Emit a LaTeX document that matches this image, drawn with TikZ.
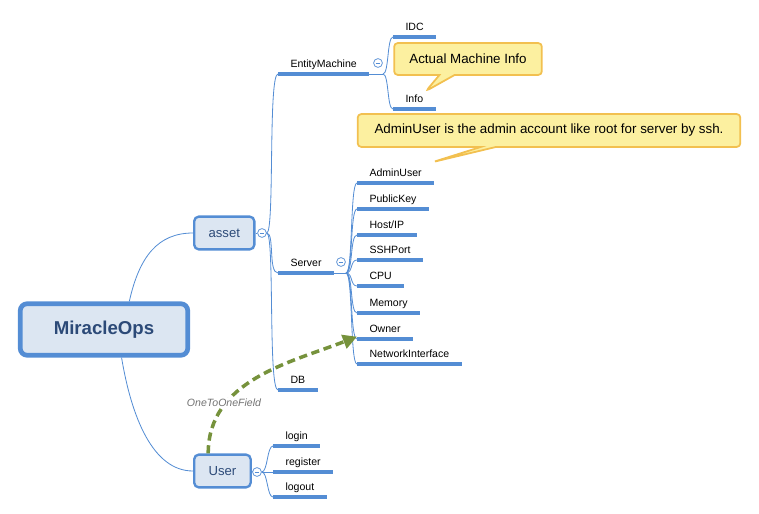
\documentclass[tikz,border=0pt]{standalone}
\usepackage{fontspec}
\setmainfont{Liberation Sans}
\usetikzlibrary{arrows.meta,shapes.callouts}

\definecolor{mapblue}{RGB}{84,141,212}
\definecolor{mapfill}{RGB}{220,230,242}
\definecolor{maptext}{RGB}{44,74,120}
\definecolor{notefill}{RGB}{252,240,160}
\definecolor{noteline}{RGB}{242,192,80}
\definecolor{relgreen}{RGB}{118,146,60}

\tikzset{
  link/.style={mapblue, line width=0.7pt},
  uline/.style={mapblue, line width=2.6pt},
  topic/.style={draw=mapblue, line width=2pt, fill=mapfill, rounded corners=4pt, text=maptext,
    font=\fontsize{11.2}{13}\selectfont, minimum height=28pt, inner xsep=12.3pt},
  leaf/.style={anchor=south west, inner xsep=10.5pt, inner ysep=3.6pt, text height=6.6pt,
    text depth=1.5pt, font=\fontsize{9}{11}\selectfont},
  fold/.style={circle, draw=mapblue, line width=0.6pt, fill=white, minimum size=7.5pt, inner sep=0pt,
    path picture={\draw[mapblue, line width=0.6pt] ([xshift=-2pt]path picture bounding box.center)
      -- ([xshift=2pt]path picture bounding box.center);}},
  note/.style={rectangle callout, draw=noteline, line width=1.5pt, fill=notefill, rounded corners=3pt,
    font=\fontsize{11.4}{13}\selectfont, callout pointer width=13pt},
  relation/.style={relgreen, line width=3pt, dash pattern=on 7pt off 4pt,
    -{Triangle[length=12pt,width=12pt]}},
  rellabel/.style={fill=white, inner sep=1pt, text=black!55, font=\itshape\fontsize{9}{11}\selectfont}
}

\begin{document}
\begin{tikzpicture}[x=0.03cm, y=-0.03cm]
\useasboundingbox (0,0) rectangle (759,514);

\node[topic, line width=4pt, rounded corners=6pt, minimum width=143pt, minimum height=44pt,
  font=\bfseries\fontsize{15.9}{18}\selectfont] (root) at (104,329.5) {MiracleOps};
\node[topic, anchor=west] (asset) at (193,233) {asset};
\node[topic, anchor=west] (user) at (193,471) {User};

\node[leaf] (entity) at (278,74) {EntityMachine};
\node[leaf] (server) at (278,273) {Server};
\node[leaf] (db) at (278,390) {DB};

\node[leaf] (idc) at (393,37) {IDC};
\node[leaf] (info) at (393,109) {Info};

\node[leaf] (adminuser) at (357,183) {AdminUser};
\node[leaf] (publickey) at (357,209) {PublicKey};
\node[leaf] (hostip) at (357,235) {Host/IP};
\node[leaf] (sshport) at (357,260) {SSHPort};
\node[leaf] (cpu) at (357,286) {CPU};
\node[leaf] (memory) at (357,313) {Memory};
\node[leaf] (owner) at (357,339) {Owner};
\node[leaf] (netif) at (357,364) {NetworkInterface};

\node[leaf] (login) at (273,446) {login};
\node[leaf] (register) at (273,472) {register};
\node[leaf] (logout) at (273,497) {logout};

\foreach \n in {entity,server,db,idc,info,adminuser,publickey,hostip,sshport,cpu,memory,owner,netif,login,register,logout}
  \draw[uline] (\n.south west) -- (\n.south east);

\node[fold] (cA) at (262,233) {};
\node[fold] (cU) at (257,472) {};
\node[fold] (cS) at (341,262) {};
\node[fold] (cE) at (378,63) {};

\coordinate (srvHub) at (346,273);
\coordinate (entHub) at (383,74);

\draw[link] (root.48) .. controls +(10,-45) and +(-35,0) .. (asset.west);
\draw[link] (root.-58) .. controls +(10,60) and +(-40,0) .. (user.west);

\draw[link] (asset.east) -- (cA.west);
\foreach \n in {entity,server,db}
  \draw[link] (cA.east) .. controls +(8,0) and +(-10,0) .. (\n.south west);

\draw[link] (server.south east) -- (srvHub);
\foreach \n in {adminuser,publickey,hostip,sshport,cpu,memory,owner,netif}
  \draw[link] (srvHub) .. controls +(7,0) and +(-7,0) .. (\n.south west);

\draw[link] (entity.south east) -- (entHub);
\foreach \n in {idc,info}
  \draw[link] (entHub) .. controls +(6,0) and +(-6,0) .. (\n.south west);

\draw[link] (user.east) -- (cU.west);
\foreach \n in {login,register,logout}
  \draw[link] (cU.east) .. controls +(6,0) and +(-6,0) .. (\n.south west);

\node[note, minimum width=126pt, minimum height=27.2pt, callout absolute pointer={(426,91)}]
  (noteInfo) at (468,59) {Actual Machine Info};
\node[note, minimum width=326.6pt, minimum height=28pt, callout absolute pointer={(433,162)}]
  (noteAdmin) at (549,130.5) {AdminUser is the admin account like root for server by ssh.};

\draw[relation] (user.129) .. controls +(0,-73) and +(-67,26) .. ([yshift=2pt]owner.south west);
\node[rellabel] (rel) at (224,403) {OneToOneField};
\end{tikzpicture}
\end{document}
